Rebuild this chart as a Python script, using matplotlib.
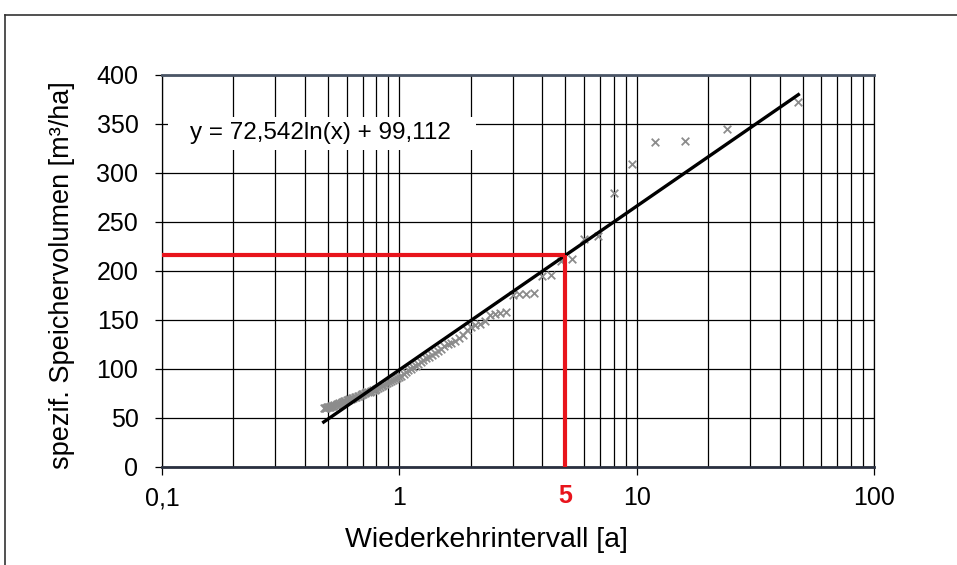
import matplotlib
matplotlib.use('Agg')
import matplotlib.pyplot as plt
import numpy as np
from matplotlib.patches import Rectangle
from matplotlib.lines import Line2D

plt.rcParams['font.family'] = ['Liberation Sans', 'DejaVu Sans']

# Wiederkehrintervall [a] der Einzelwerte
wiederkehr = [48, 24, 16, 12, 9.6, 8, 6.857, 6, 5.333, 4.8,
              4.364, 4, 3.692, 3.429, 3.2, 3, 2.824, 2.667, 2.526, 2.4,
              2.286, 2.182, 2.087, 2, 1.92, 1.846, 1.778, 1.714, 1.655, 1.6,
              1.548, 1.5, 1.455, 1.412, 1.371, 1.333, 1.297, 1.263, 1.231, 1.2,
              1.171, 1.143, 1.116, 1.091, 1.067, 1.043, 1.021, 1, 0.98, 0.96,
              0.941, 0.923, 0.906, 0.889, 0.873, 0.857, 0.842, 0.828, 0.814, 0.8,
              0.787, 0.774, 0.762, 0.75, 0.738, 0.727, 0.716, 0.706, 0.696, 0.686,
              0.676, 0.667, 0.658, 0.649, 0.64, 0.632, 0.623, 0.615, 0.608, 0.6,
              0.593, 0.585, 0.578, 0.571, 0.565, 0.558, 0.552, 0.545, 0.539, 0.533,
              0.527, 0.522, 0.516, 0.511, 0.505, 0.5, 0.495, 0.49, 0.485, 0.48]

# spezifisches Speichervolumen [m3/ha]
volumen = [372, 345, 333, 332, 309, 280, 236, 233, 212, 210,
           196, 195, 178, 177, 176, 175, 158, 157, 156, 155,
           149, 146, 145, 143, 140, 135, 132, 129, 127, 125,
           123, 120, 118, 116, 114, 112, 111, 109, 107, 105,
           103, 102, 100, 99, 97, 95, 93, 92, 91, 90,
           89, 88, 87, 86, 85, 84, 83, 82, 81, 80,
           79, 78.5, 78, 77, 76.5, 76, 75, 74.5, 74, 73,
           72.5, 72, 71.5, 71, 70.5, 70, 69.5, 69, 68.5, 68,
           67.5, 67, 66.5, 66, 65.5, 65, 64.5, 64, 63.5, 63,
           62.5, 62, 61.8, 61.5, 61.2, 61, 60.7, 60.4, 60.2, 60]

# Trendlinie aus der Gleichung im Diagramm
a_koeff = 72.542
b_koeff = 99.112
trend_bereich = [0.48, 48]

bemessung_T = 5  # gewaehltes Wiederkehrintervall

x_ticks = [0.1, 1, 10, 100]
x_ticklabels = ['0,1', '1', '10', '100']
y_ticks = [0, 50, 100, 150, 200, 250, 300, 350, 400]

fig = plt.figure(figsize=(9.57, 5.65), dpi=100)
ax = fig.add_axes([0.1693, 0.1735, 0.744, 0.6938])

ax.set_xscale('log')
ax.set_xlim(0.1, 100)
ax.set_ylim(0, 400)

# Gitter
ax.set_xticks(x_ticks)
ax.set_xticklabels(x_ticklabels)
ax.set_xticks([m * d for d in [0.1, 1, 10] for m in range(2, 10)], minor=True)
ax.set_yticks(y_ticks)
ax.grid(True, which='both', axis='x', color='black', linewidth=0.9)
ax.grid(True, which='major', axis='y', color='black', linewidth=0.9)
ax.set_axisbelow(True)
ax.tick_params(axis='x', which='minor', length=0)
ax.tick_params(axis='x', which='major', length=6, width=0.9, labelsize=18, pad=8)
ax.tick_params(axis='y', length=5, width=0.9, labelsize=18, pad=12)

for s in ['left', 'right']:
    ax.spines[s].set_linewidth(0.9)
ax.spines['top'].set_linewidth(2)
ax.spines['top'].set_color('#4a5566')
ax.spines['bottom'].set_linewidth(2)
ax.spines['bottom'].set_color('#2a3040')

# Messwerte
ax.scatter(wiederkehr, volumen, marker='x', s=30, color='#8c8c8c',
           linewidths=1.3, zorder=3)

# Trendlinie
xt = np.linspace(trend_bereich[0], trend_bereich[1], 200)
ax.plot(xt, a_koeff * np.log(xt) + b_koeff, color='black', linewidth=2.4, zorder=4)

# Ablesung bei T = 5 a
v5 = a_koeff * np.log(bemessung_T) + b_koeff
ax.plot([0.1, bemessung_T], [v5, v5], color='#e8141c', linewidth=3, zorder=5,
        solid_capstyle='butt')
ax.plot([bemessung_T, bemessung_T], [0, v5], color='#e8141c', linewidth=3, zorder=5,
        solid_capstyle='butt')
ax.text(bemessung_T, -0.075, '5', transform=ax.get_xaxis_transform(),
        color='#e8141c', fontsize=18, fontweight='bold', ha='center', va='center')

# Gleichung
ax.add_patch(Rectangle((0.0084, 0.809), 0.432, 0.084, transform=ax.transAxes,
                       facecolor='white', edgecolor='none', zorder=2))
ax.text(0.1313, 341, 'y = 72,542ln(x) + 99,112', fontsize=17.5, va='center',
        ha='left', zorder=6)

ax.set_xlabel('Wiederkehrintervall [a]', fontsize=20.5)
ax.xaxis.set_label_coords(0.455, -0.152)
ax.set_ylabel('spezif. Speichervolumen [m³/ha]', fontsize=19.5)
ax.yaxis.set_label_coords(-0.122, 0.49)

# Rahmen um das Diagramm
fig.add_artist(Line2D([0.0052, 0.0052], [0, 0.9735], transform=fig.transFigure,
                      color='#333333', linewidth=1.2))
fig.add_artist(Line2D([0.0052, 1], [0.9735, 0.9735], transform=fig.transFigure,
                      color='#333333', linewidth=1.2))

fig.savefig('out.png', dpi=100)
